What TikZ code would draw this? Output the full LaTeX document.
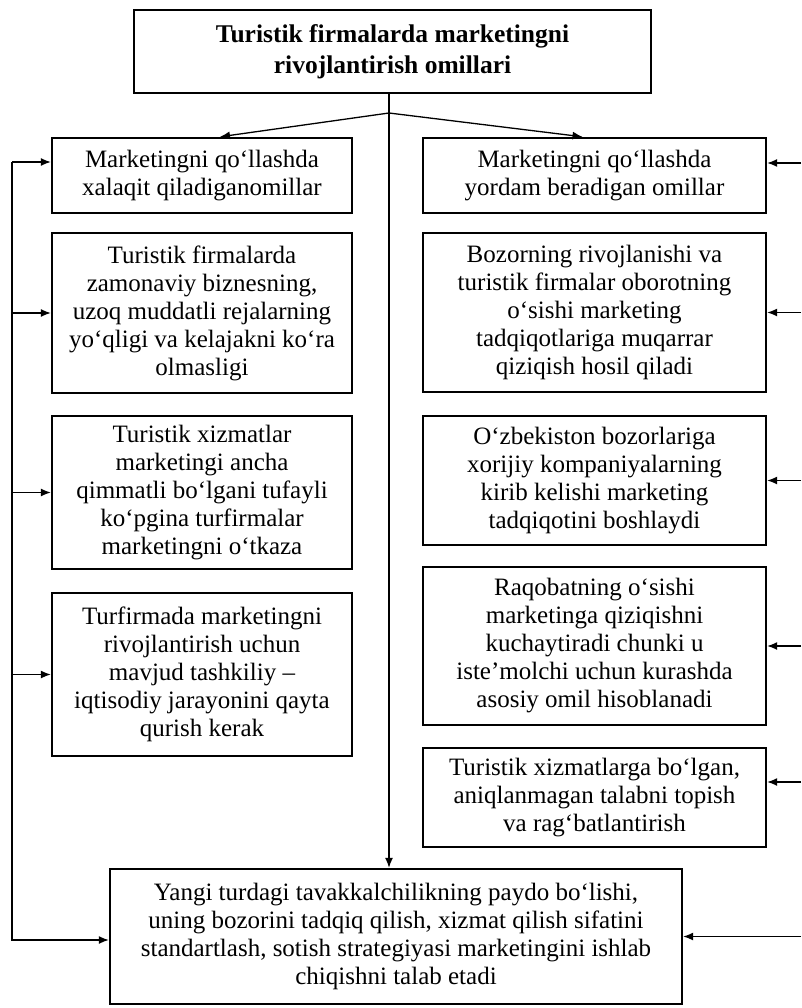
\documentclass[tikz,border=0pt]{standalone}
\usepackage{fontspec}
\setmainfont{Liberation Serif}
\usetikzlibrary{arrows.meta}

\begin{document}
\begin{tikzpicture}[x=1pt,y=-1pt]
        \useasboundingbox (0,0) rectangle (802,1008);
        \tikzset{BoxStyle/.style={draw, line width=2.4pt, align=center, inner sep=3pt,
            font=\fontsize{25}{28}\selectfont}}
        \tikzset{EdgeStyle/.style={-{Latex[length=10pt,width=8pt]}, line width=1.3pt}}
        \node[BoxStyle, font=\fontsize{25.5}{31}\selectfont\bfseries,
            minimum width=517pt, minimum height=83pt] (T) at (392.5,51.5)
            {Turistik firmalarda marketingni\\rivojlantirish omillari};
        \node[BoxStyle, minimum width=300pt, minimum height=75pt] (L1) at (202,175.5)
            {Marketingni qo‘llashda\\xalaqit qiladiganomillar};
        \node[BoxStyle, minimum width=300pt, minimum height=160pt] (L2) at (202,313)
            {Turistik firmalarda\\zamonaviy biznesning,\\uzoq muddatli rejalarning\\yo‘qligi va kelajakni ko‘ra\\olmasligi};
        \node[BoxStyle, minimum width=300pt, minimum height=153pt] (L3) at (202,492.5)
            {Turistik xizmatlar\\marketingi ancha\\qimmatli bo‘lgani tufayli\\ko‘pgina turfirmalar\\marketingni o‘tkaza};
        \node[BoxStyle, minimum width=300pt, minimum height=163pt] (L4) at (202,674.5)
            {Turfirmada marketingni\\rivojlantirish uchun\\mavjud tashkiliy –\\iqtisodiy jarayonini qayta\\qurish kerak};
        \node[BoxStyle, minimum width=343pt, minimum height=75pt] (R1) at (594.5,175.5)
            {Marketingni qo‘llashda\\yordam beradigan omillar};
        \node[BoxStyle, minimum width=343pt, minimum height=159pt] (R2) at (594.5,312.5)
            {Bozorning rivojlanishi va\\turistik firmalar oborotning\\o‘sishi marketing\\tadqiqotlariga muqarrar\\qiziqish hosil qiladi};
        \node[BoxStyle, minimum width=343pt, minimum height=129pt] (R3) at (594.5,480.5)
            {O‘zbekiston bozorlariga\\xorijiy kompaniyalarning\\kirib kelishi marketing\\tadqiqotini boshlaydi};
        \node[BoxStyle, minimum width=343pt, minimum height=158pt] (R4) at (594.5,646)
            {Raqobatning o‘sishi\\marketinga qiziqishni\\kuchaytiradi chunki u\\iste’molchi uchun kurashda\\asosiy omil hisoblanadi};
        \node[BoxStyle, minimum width=343pt, minimum height=99pt] (R5) at (594.5,797.5)
            {Turistik xizmatlarga bo‘lgan,\\aniqlanmagan talabni topish\\va rag‘batlantirish};
        \node[BoxStyle, minimum width=572pt, minimum height=135pt] (Y) at (396,936.5)
            {Yangi turdagi tavakkalchilikning paydo bo‘lishi,\\uning bozorini tadqiq qilish, xizmat qilish sifatini\\standartlash, sotish strategiyasi marketingini ishlab\\chiqishni talab etadi};
        \coordinate (Apex) at (389,113);
        \coordinate (LTop) at (12,162);
        \coordinate (LBot) at (12,940);
        \coordinate (RTop) at (801,163);
        \coordinate (RFive) at (801,782);
        \draw[EdgeStyle] (Apex |- T.south) -- (Apex |- Y.north);
        \draw[EdgeStyle] (Apex) -- ([xshift=18pt]L1.north);
        \draw[EdgeStyle] (Apex) -- ([xshift=-12pt]R1.north);
        \draw[EdgeStyle] (LTop) -- (LBot) -- (LBot -| Y.west);
        \draw[EdgeStyle] (LTop) -- (LTop -| L1.west);
        \draw[EdgeStyle] (LTop |- L2.west) -- (L2.west);
        \draw[EdgeStyle] (LTop |- L3.west) -- (L3.west);
        \draw[EdgeStyle] (LTop |- L4.west) -- (L4.west);
        \draw[EdgeStyle] (RTop) -- (RTop -| R1.east);
        \draw[EdgeStyle] (RTop |- R2.east) -- (R2.east);
        \draw[EdgeStyle] (RTop |- R3.east) -- (R3.east);
        \draw[EdgeStyle] (RTop |- R4.east) -- (R4.east);
        \draw[EdgeStyle] (RFive) -- (RFive -| R5.east);
        \draw[EdgeStyle] (RTop |- Y.east) -- (Y.east);
    \end{tikzpicture}
\end{document}
